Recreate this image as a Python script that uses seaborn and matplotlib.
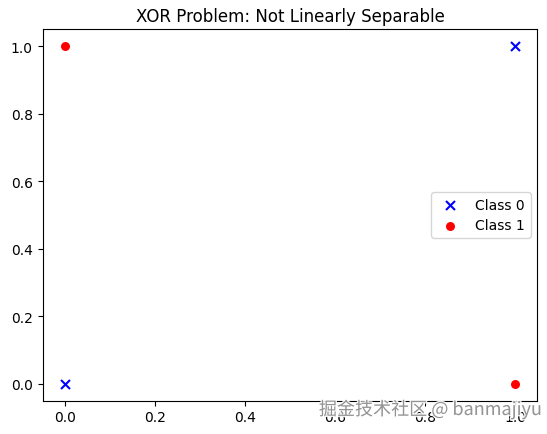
import matplotlib
matplotlib.use('Agg')
import matplotlib.pyplot as plt
import matplotlib.patheffects as pe
import seaborn as sns

# XOR data
class0_x = [0, 1]
class0_y = [0, 1]
class1_x = [0, 1]
class1_y = [1, 0]

plt.rcParams['font.family'] = ['DejaVu Sans', 'Noto Sans CJK SC']

fig, ax = plt.subplots(figsize=(5.47, 4.35), dpi=100)
fig.subplots_adjust(left=0.0777, right=0.9826, top=0.9299, bottom=0.077)

sns.scatterplot(x=class0_x, y=class0_y, marker='x', color='blue', s=42,
                linewidth=1.5, label='Class 0', ax=ax)
sns.scatterplot(x=class1_x, y=class1_y, marker='o', color='red', s=42,
                edgecolor='red', linewidth=0, label='Class 1', ax=ax)

ax.set_title('XOR Problem: Not Linearly Separable')
ax.legend(loc='center right')

# watermark
fig.text(0.99, 0.057, '掘金技术社区 @ banmajiyu', ha='right', va='center',
         fontsize=13, color='#8a8a8a', alpha=0.9,
         family=['Noto Sans CJK SC', 'DejaVu Sans'],
         path_effects=[pe.withStroke(linewidth=2, foreground='white')])

fig.savefig('out.png', dpi=100)
